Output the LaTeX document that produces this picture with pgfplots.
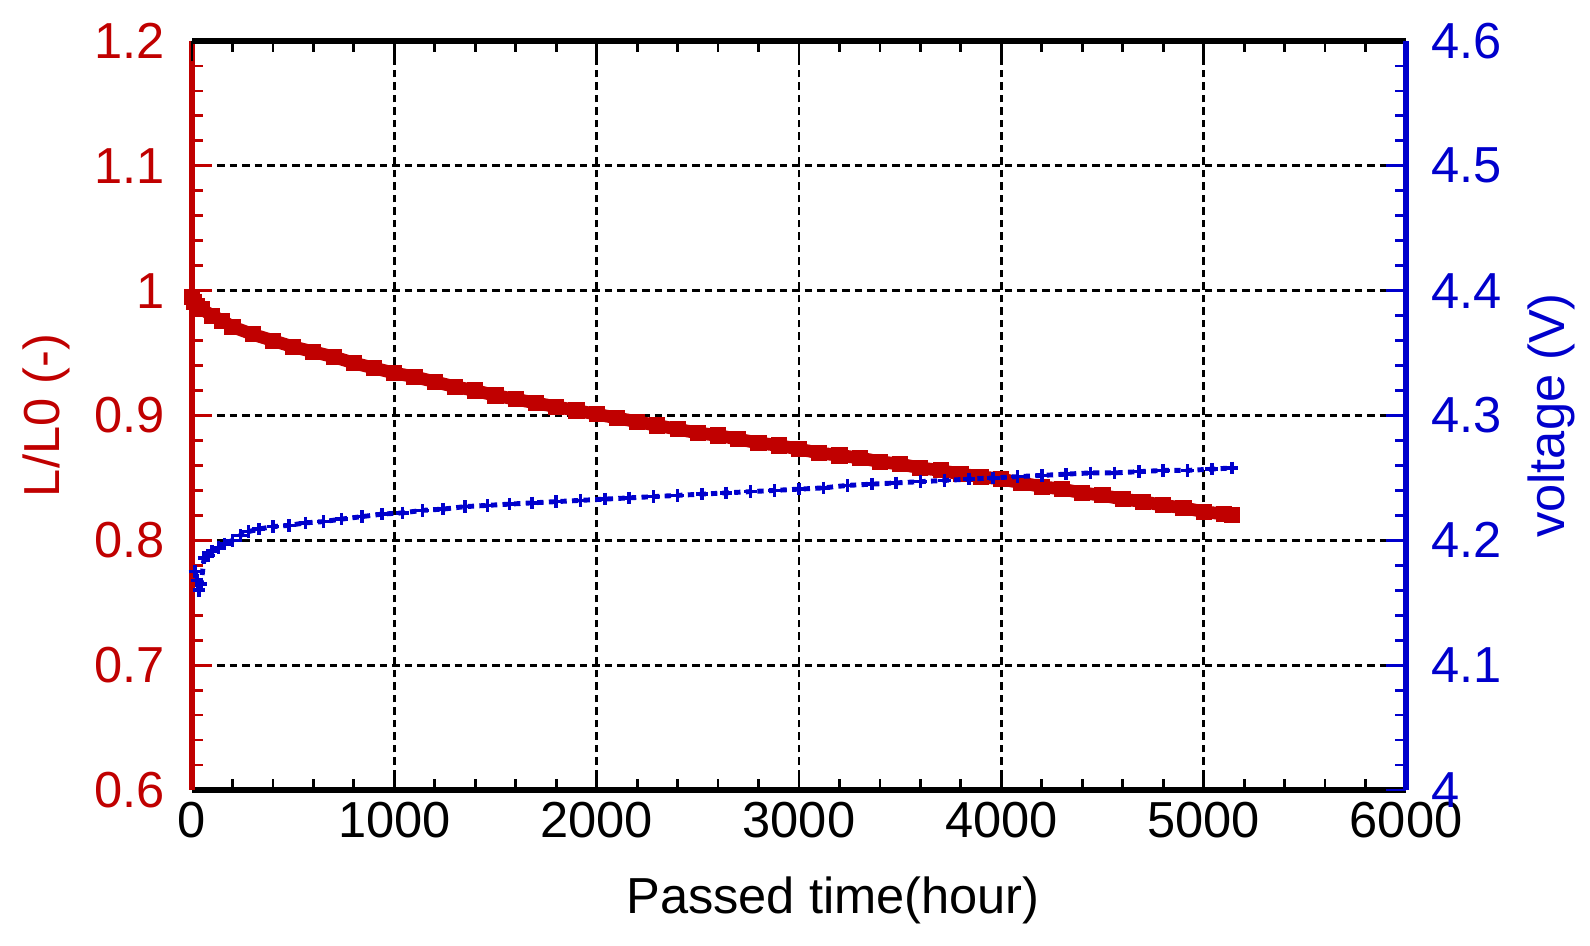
\documentclass[border=0pt]{standalone}
\usepackage{fontspec}
\setmainfont{Liberation Sans}
\usepackage{pgfplots}
\pgfplotsset{compat=1.18}
\definecolor{lred}{RGB}{192,0,0}
\definecolor{vblue}{RGB}{0,0,204}

\pgfplotsset{
  twin/.style={
    scale only axis, width=121.4mm, height=74.9mm,
    xmin=0, xmax=6000,
    xtick={0,1000,2000,3000,4000,5000,6000}, minor x tick num=4,
    tick align=inside,
    major tick length=2mm, minor tick length=1.1mm,
    font=\fontsize{14.4}{16}\selectfont,
    /pgf/number format/assume math mode=true,
    /pgf/number format/1000 sep={},
    scaled ticks=false,
    every major x tick/.append style={black, line width=0.8pt},
    every minor x tick/.append style={black, line width=0.8pt},
  }
}

\begin{document}
\begin{tikzpicture}
\begin{axis}[twin, name=ax,
  axis x line*=bottom, axis y line*=left,
  ymin=0.6, ymax=1.2, ytick={0.6,0.7,0.8,0.9,1,1.1,1.2}, minor y tick num=4,
  x axis line style={-, black, line width=1.7pt},
  y axis line style={-, lred, line width=1.7pt},
  every major y tick/.append style={lred, line width=0.8pt},
  every minor y tick/.append style={lred, line width=0.8pt},
  yticklabel style={lred, xshift=-1.5mm},
  grid=major,
  major grid style={black, line width=0.8pt, dash pattern=on 0.75mm off 0.5mm},
  xlabel={Passed time(hour)}, ylabel={L/L0 (-)},
  xlabel style={at={(axis description cs:0.528,-0.147)}, anchor=center},
  ylabel style={lred, at={(axis description cs:-0.120,0.5)}, anchor=center},
]
\addplot[lred, line width=3.6pt, mark=square*, mark size=2.1pt,
  mark options={line width=0.4pt, fill=lred, draw=lred}] coordinates {
(0,0.995) (10,0.991) (25,0.988) (50,0.985) (100,0.980) (150,0.976) (200,0.971)
(300,0.965) (400,0.960) (500,0.955) (600,0.951) (700,0.947) (800,0.942)
(900,0.938) (1000,0.934) (1100,0.931) (1200,0.927) (1300,0.923) (1400,0.920)
(1500,0.916) (1600,0.913) (1700,0.910) (1800,0.907) (1900,0.904) (2000,0.901)
(2100,0.898) (2200,0.895) (2300,0.892) (2400,0.889) (2500,0.886) (2600,0.884)
(2700,0.881) (2800,0.878) (2900,0.876) (3000,0.873) (3100,0.870) (3200,0.868)
(3300,0.866) (3400,0.863) (3500,0.861) (3600,0.858) (3700,0.856) (3800,0.853)
(3900,0.851) (4000,0.849) (4100,0.846) (4200,0.843) (4300,0.841) (4400,0.838)
(4500,0.836) (4600,0.833) (4700,0.831) (4800,0.828) (4900,0.826) (5000,0.823)
(5100,0.821) (5140,0.820)
};
\end{axis}
\begin{axis}[twin,
  axis x line*=top, axis y line*=right,
  ymin=4, ymax=4.6, ytick={4,4.1,4.2,4.3,4.4,4.5,4.6}, minor y tick num=4,
  xticklabels={},
  x axis line style={-, black, line width=1.7pt},
  y axis line style={-, vblue, line width=1.7pt},
  every major y tick/.append style={vblue, line width=0.8pt},
  every minor y tick/.append style={vblue, line width=0.8pt},
  yticklabel style={vblue, xshift=1.3mm},
  ylabel={voltage (V)},
  ylabel style={vblue, at={(axis description cs:1.1194,0.5)}, anchor=center},
]
\addplot[vblue, line width=1.4pt, dash pattern=on 1.8pt off 1.5pt,
  mark=+, mark size=1.8pt, mark options={solid, line width=1pt}] coordinates {
(15,4.175) (25,4.168) (35,4.160) (45,4.165) (60,4.186) (80,4.188) (100,4.191)
(130,4.194) (160,4.197) (200,4.200) (240,4.204) (280,4.207) (330,4.209)
(400,4.211) (480,4.212) (560,4.214) (650,4.215) (740,4.217) (840,4.219)
(940,4.221) (1040,4.222) (1140,4.224) (1240,4.225) (1350,4.227) (1460,4.228)
(1570,4.229) (1680,4.230) (1800,4.231) (1920,4.232) (2040,4.233) (2160,4.234)
(2280,4.235) (2400,4.236) (2520,4.237) (2640,4.238) (2760,4.239) (2880,4.240)
(3000,4.241) (3120,4.242) (3240,4.244) (3360,4.245) (3480,4.246) (3600,4.247)
(3720,4.248) (3840,4.249) (3960,4.250) (4080,4.251) (4200,4.252) (4320,4.253)
(4440,4.254) (4560,4.254) (4680,4.255) (4800,4.256) (4920,4.256) (5040,4.257)
(5140,4.258)
};
\end{axis}
\pgfresetboundingbox
\path[use as bounding box] ([shift={(-19.2mm,-15.6mm)}]ax.south west)
  rectangle ([shift={(18.4mm,4.1mm)}]ax.north east);
\end{tikzpicture}
\end{document}
